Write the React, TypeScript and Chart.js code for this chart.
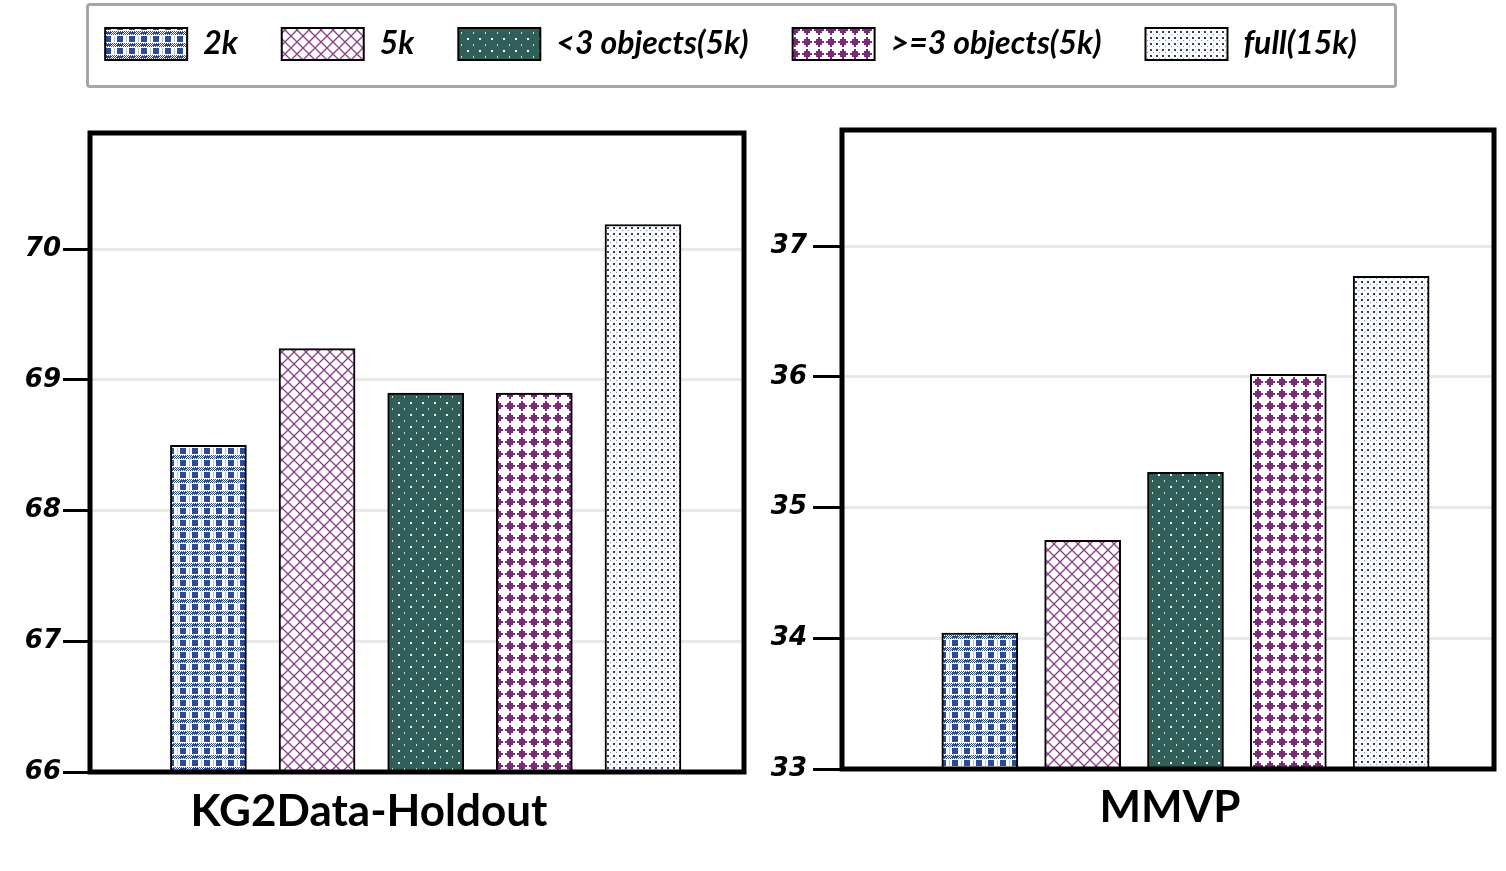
import React, { useEffect, useRef } from 'react';
import { Chart, registerables } from 'chart.js';

Chart.register(...registerables);

// ---------------- data ----------------
const categories = ['2k', '5k', '<3 objects(5k)', '>=3 objects(5k)', 'full(15k)'];
const kgValues = [68.5, 69.24, 68.9, 68.9, 70.19];
const mmvpValues = [34.04, 34.75, 35.27, 36.02, 36.77];
const kgTicks = [66, 67, 68, 69, 70];
const mmvpTicks = [33, 34, 35, 36, 37];
const kgTitle = 'KG2Data-Holdout';
const mmvpTitle = 'MMVP';

// ---------------- patterns ----------------
function tile(w: number, h: number, draw: (g: CanvasRenderingContext2D) => void) {
  const c = document.createElement('canvas');
  c.width = w;
  c.height = h;
  const g = c.getContext('2d') as CanvasRenderingContext2D;
  draw(g);
  return g.createPattern(c, 'repeat') as CanvasPattern;
}

function makePatterns() {
  const blue = '#2a4b9b';
  const purpleLight = '#8c3b8c';
  const purple = '#7b2a79';
  const teal = '#2f5f58';
  const navy = '#2d3c70';
  return [
    // gingham
    tile(12, 12, (g) => {
      g.fillStyle = '#fff';
      g.fillRect(0, 0, 12, 12);
      g.fillStyle = blue;
      g.fillRect(0, 0, 6, 6);
      for (let y = 7; y < 11; y++)
        for (let x = 0; x < 12; x++) if ((x + y) % 2 === 0) g.fillRect(x, y, 1, 1);
      g.fillRect(0, 8, 6, 2);
      g.globalAlpha = 0.35;
      g.fillRect(9, 0, 1, 6);
      g.globalAlpha = 1;
    }),
    // diamond lattice
    tile(12, 12, (g) => {
      g.fillStyle = '#fff';
      g.fillRect(0, 0, 12, 12);
      g.strokeStyle = purpleLight;
      g.lineWidth = 1.3;
      g.beginPath();
      g.moveTo(0, 6);
      g.lineTo(6, 0);
      g.lineTo(12, 6);
      g.lineTo(6, 12);
      g.closePath();
      g.stroke();
    }),
    // teal with white dots
    tile(12, 12, (g) => {
      g.fillStyle = teal;
      g.fillRect(0, 0, 12, 12);
      g.fillStyle = '#fff';
      g.fillRect(2, 2, 2, 2);
      g.globalAlpha = 0.8;
      g.fillRect(8, 8, 1, 2);
      g.globalAlpha = 1;
    }),
    // purple stars
    tile(12, 12, (g) => {
      g.fillStyle = '#fff';
      g.fillRect(0, 0, 12, 12);
      g.fillStyle = purple;
      g.fillRect(1, 5, 10, 2);
      g.fillRect(5, 1, 2, 10);
      g.fillRect(3, 3, 6, 6);
    }),
    // fine navy dots
    tile(6, 6, (g) => {
      g.fillStyle = '#fff';
      g.fillRect(0, 0, 6, 6);
      g.fillStyle = navy;
      g.fillRect(1, 1, 2, 2);
      g.globalAlpha = 0.6;
      g.fillRect(4, 4, 1, 1);
      g.globalAlpha = 1;
    }),
  ];
}

// ---------------- plugins ----------------
const framePlugin = {
  id: 'frame',
  afterDraw(chart: any) {
    const { ctx, chartArea: a } = chart;
    ctx.save();
    ctx.lineWidth = 5;
    ctx.strokeStyle = '#000';
    ctx.strokeRect(a.left, a.top, a.right - a.left, a.bottom - a.top);
    ctx.restore();
  },
};

const panelTitlePlugin = {
  id: 'panelTitle',
  afterDraw(chart: any, _args: any, opts: any) {
    if (!opts || !opts.text) return;
    const { ctx, chartArea: a } = chart;
    ctx.save();
    ctx.font = 'bold 44px Lato';
    ctx.fillStyle = '#000';
    ctx.textAlign = 'center';
    ctx.textBaseline = 'middle';
    ctx.fillText(opts.text, (a.left + a.right) / 2 + opts.dx, a.bottom + opts.dy);
    ctx.restore();
  },
};

type PanelProps = {
  values: number[];
  ticks: number[];
  yMax: number;
  xMin: number;
  xMax: number;
  title: string;
  box: { left: number; top: number; width: number; height: number };
  axisWidth: number;
  pad: { top: number; right: number; bottom: number };
  tickLength: number;
  tickPadding: number;
  titleDx: number;
  titleDy: number;
};

function Panel(p: PanelProps) {
  const ref = useRef<HTMLCanvasElement | null>(null);
  useEffect(() => {
    if (!ref.current) return;
    const patterns = makePatterns();
    const chart = new Chart(ref.current, {
      type: 'bar',
      data: {
        datasets: [
          {
            label: 'values',
            data: p.values.map((v, i) => ({ x: i, y: v })),
            backgroundColor: patterns as any,
            borderColor: '#000',
            borderWidth: 2,
            borderSkipped: false,
            barThickness: 76,
          } as any,
        ],
      },
      options: {
        animation: false,
        responsive: true,
        maintainAspectRatio: false,
        layout: { padding: { left: 0, top: p.pad.top, right: p.pad.right, bottom: p.pad.bottom } },
        scales: {
          x: { type: 'linear', min: p.xMin, max: p.xMax, display: false, offset: false },
          y: {
            type: 'linear',
            min: p.ticks[0],
            max: p.yMax,
            afterBuildTicks: (s: any) => {
              s.ticks = p.ticks.map((v) => ({ value: v }));
            },
            afterFit: (s: any) => {
              s.width = p.axisWidth;
            },
            border: { display: false },
            grid: {
              color: '#e8e8e8',
              lineWidth: 3,
              tickColor: '#000',
              tickWidth: 3,
              tickLength: p.tickLength,
            },
            ticks: {
              padding: p.tickPadding,
              color: '#000',
              font: { family: 'DejaVu Sans', size: 26, weight: 'bold', style: 'italic' },
              callback: (v: any) => String(v),
            },
          },
        },
        plugins: {
          legend: { display: false },
          tooltip: { enabled: false },
          panelTitle: { text: p.title, dx: p.titleDx, dy: p.titleDy },
        } as any,
      },
      plugins: [framePlugin, panelTitlePlugin],
    });
    return () => chart.destroy();
  }, []);
  return (
    <div style={{ position: 'absolute', left: p.box.left, top: p.box.top, width: p.box.width, height: p.box.height }}>
      <canvas ref={ref} />
    </div>
  );
}

function Legend() {
  const ref = useRef<HTMLCanvasElement | null>(null);
  useEffect(() => {
    if (!ref.current) return;
    const patterns = makePatterns();
    const chart = new Chart(ref.current, {
      type: 'bar',
      data: {
        labels: [],
        datasets: categories.map((c, i) => ({
          label: c,
          data: [],
          backgroundColor: patterns[i] as any,
          borderColor: '#000',
          borderWidth: 2,
        })),
      },
      options: {
        animation: false,
        responsive: true,
        maintainAspectRatio: false,
        layout: { padding: { top: -16, left: 0, right: 0, bottom: 0 } },
        scales: { x: { display: false }, y: { display: false } },
        plugins: {
          tooltip: { enabled: false },
          legend: {
            display: true,
            position: 'top',
            onClick: () => {},
            labels: {
              boxWidth: 82,
              boxHeight: 32,
              padding: 44,
              color: '#000',
              font: { family: 'Lato', size: 32, weight: 'bold', style: 'italic' },
            },
          },
        },
      },
    });
    return () => chart.destroy();
  }, []);
  return (
    <div style={{ position: 'absolute', left: 21, top: 0, width: 1420, height: 200 }}>
      <canvas ref={ref} />
    </div>
  );
}

export default function App() {
  return (
    <div style={{ position: 'fixed', left: 0, top: 0, width: 1506, height: 871, background: '#fff' }}>
      <Panel
        values={kgValues}
        ticks={kgTicks}
        yMax={70.89}
        xMin={-1.09}
        xMax={4.93}
        title={kgTitle}
        box={{ left: 0, top: 100, width: 760, height: 760 }}
        axisWidth={90}
        pad={{ top: 33, right: 16, bottom: 88 }}
        tickLength={27}
        tickPadding={2}
        titleDx={-48}
        titleDy={40}
      />
      <Panel
        values={mmvpValues}
        ticks={mmvpTicks}
        yMax={37.89}
        xMin={-1.34}
        xMax={5.0}
        title={mmvpTitle}
        box={{ left: 760, top: 100, width: 746, height: 760 }}
        axisWidth={82}
        pad={{ top: 30, right: 12, bottom: 91 }}
        tickLength={29}
        tickPadding={6}
        titleDx={2}
        titleDy={39}
      />
      <Legend />
      <div
        style={{
          position: 'absolute',
          left: 86,
          top: 3,
          width: 1305,
          height: 79,
          border: '3px solid #a6a6a6',
          borderRadius: 4,
          pointerEvents: 'none',
        }}
      />
    </div>
  );
}
